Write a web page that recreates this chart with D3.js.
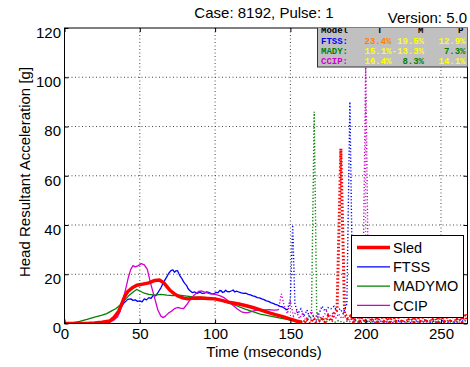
<!DOCTYPE html>
<html><head><meta charset="utf-8">
<script src="https://cdn.jsdelivr.net/npm/d3@7"></script>
<style>body{margin:0;background:#fff;} svg{display:block;font-family:"Liberation Sans",Arial,sans-serif;}</style>
</head><body><svg id="c" width="470" height="367"></svg>
<script>
// ---------- data ----------
const title = "Case: 8192, Pulse: 1";
const version = "Version: 5.0";
const xLabel = "Time (mseconds)";
const yLabel = "Head Resultant Acceleration [g]";
const xTicks = [0, 50, 100, 150, 200, 250];
const yTicks = [0, 20, 40, 60, 80, 100, 120];
const seriesNames = ["Sled", "FTSS", "MADYMO", "CCIP"];

// solid (valid) parts: [time, g]
const sledSolid = [[0,0],[5,0],[10,0],[15,0],[20,0.2],[25,0.5],[30,1],[33,2.5],[36,5],[38,8],[40,11],[42,13],[45,14.5],[48,15.5],[52,16],[56,16.5],[60,17.5],[63,17.7],[66,16.5],[68,15],[70,13.5],[73,12],[76,11],[79,10.3],[82,10],[86,10.3],[90,10.4],[95,10.2],[100,10],[105,9.3],[110,8.5],[115,8],[120,7.3],[125,6.5],[130,5.5],[135,4.5],[140,3.6],[145,2.8],[150,1.8],[154,1],[157,0.5]];
const ftssSolid = [[0,0],[10,0],[20,0.2],[25,0.4],[30,1],[33,2.5],[36,5],[39,8],[41,9.2],[42,9.8],[44,10],[45.5,9.4],[47,9.6],[48.5,9],[50,9.2],[51.5,8.8],[53,10],[54.5,9.6],[56,10.5],[57.5,10.2],[59,11.5],[60.5,11.2],[62,12.5],[64,14.5],[66,17],[68,19],[69,20.2],[70,21],[71,21.6],[72,21.8],[73,20.8],[74,21.4],[75,21.5],[76,20.2],[77,19],[78,18.2],[79,17],[80,16.2],[81,15.5],[82,14.2],[83,13.5],[85,12.5],[86.5,12.8],[88,12.2],[90,12.7],[91.5,12.2],[93,12.3],[94.5,12.9],[96,12.5],[97.5,12.1],[99,12],[100.5,12.6],[102,12.5],[103,13.4],[104,13.3],[105,12.6],[106,12.8],[107,13.5],[108,13],[109.5,12.9],[111,13.3],[112,13.6],[113,12.8],[114.5,13.1],[116,12.7],[117.5,12.4],[119,12.2],[120.5,12.3],[122,11.8],[123.5,11.6],[125,11.2],[126.5,11],[128,10.5],[129.5,10.4],[131,10],[132.5,9.7],[134,9.2],[135.5,9],[137,8.5],[138.5,8.2],[140,7.8],[141.5,7.5],[143,7],[144.5,6.8],[146,6.2],[148,5.5]];
const madySolid = [[0,0],[5,0.2],[10,0.9],[15,1.7],[20,2.6],[25,3.4],[28,4],[31,5],[34,6],[37,7.5],[40,9.5],[43,11.5],[46,13],[48,13.8],[50,13.2],[53,12.3],[56,11.8],[60,11.5],[64,11.8],[68,11.5],[72,11.3],[76,11.5],[80,11.2],[85,10.8],[90,10.7],[95,10.5],[100,10],[105,9.2],[110,8.2],[115,7],[120,5.8],[125,4.8],[130,3.8],[135,3.2],[140,2.6],[145,2],[150,1.4],[153,1]];
const ccipSolid = [[0,0],[10,0],[20,0],[25,0.2],[30,0.5],[33,1.5],[35,2.5],[37,5],[39,10],[41,15],[42.5,19],[44,22],[45.5,23.5],[47,23],[49,23.5],[51,24.3],[53,23.8],[55,22],[56.5,18],[58,14.5],[60,10],[62,5.5],[64,3],[65.5,2.4],[67,3],[69,4.2],[71,5],[73,6],[75,6.5],[77,6.2],[79,6],[81,7.5],[83,9.3],[86,11.5],[89,13],[91,13.2],[94,12.5],[97,12],[100,11.8],[103,11.3],[106,10.5],[109,9],[112,7.3],[115,5.8],[118,4.6],[121,4.3],[124,4.8],[127,5.3],[130,5.5],[133,5.5],[136,5.6],[139,5.4],[142,5.5]];

// dotted tails
const sledTail = [[157,0.5],[159,0.3],[161,1.5],[163,0.2],[165,2],[167,0.5],[169,1],[171,2.5],[173,0.5],[175,3],[177,1],[179,4],[181,6],[183.5,71],[186,4],[188,2],[190,3],[192,0.5],[194,4],[196,1],[198,3],[200,0.5],[202,4],[204,1],[206,3],[208,0.5],[210,4],[212,1],[214,2.5],[216,0.5],[218,4],[220,1],[222,3],[224,0.5],[226,4],[228,1],[230,3],[232,0.5],[234,4],[236,1],[238,3],[240,0.5],[242,4],[244,1],[246,3],[248,0.5],[250,4],[252,1],[254,3],[256,0.5],[258,4],[260,1],[262,3],[264,0.5],[266,4],[267.5,1]];
const ftssTail = [[148,5.5],[150,10],[151.5,40],[153,8],[155,4],[157,6],[159,3],[161,5.5],[163,2],[165,3],[167,1],[169,4],[171,7],[173,5],[175,6.5],[177,6],[179,7],[181,5],[183,6],[185,4],[187.5,8],[189.5,90],[191.5,3],[193,1],[195,0.5],[198,1.5],[200,0.5],[203,1],[206,0.3],[209,1.2],[212,0.4],[215,1],[218,0.3],[221,1.4],[224,0.5],[227,1],[230,0.3],[233,1.2],[236,0.5],[239,1.5],[242,0.4],[245,1],[248,0.3],[251,1.2],[254,0.5],[257,1],[260,0.3],[263,1.5],[266,0.5]];
const madyTail = [[153,1],[156,0.5],[158,1.5],[160,0.5],[162,2],[164,4],[165.8,86],[167.5,3],[169,1],[171,2],[173,0.5],[176,1.5],[179,0.4],[182,1.2],[185,0.3],[188,1],[191,0.4],[194,1.3],[197,0.3],[200,1],[203,0.4],[206,1.2],[209,0.3],[212,1],[215,0.4],[218,1.2],[221,0.3],[224,1],[227,0.4],[230,1.2],[233,0.3],[236,1],[239,0.4],[242,1.2],[245,0.3],[248,1],[251,0.4],[254,1.2],[257,0.3],[260,1],[263,0.4],[266,1.2]];
const ccipTail = [[142,5.5],[144,12],[146,7],[148,4],[150,9],[152,3],[154,5],[156,2],[158,4],[160,1.5],[162,3],[164,5],[166,2],[168,4],[170,1],[172,3],[174,5],[176,3],[178,4],[180,2],[182,4],[184,2],[186,3],[188,1],[190,2],[192,1],[194,3],[196,2],[198,5],[200,106],[202,3],[204,1],[206,0.5],[209,1],[212,0.3],[215,0.8],[218,0.3],[221,1],[224,0.4],[227,0.8],[230,0.3],[233,1],[236,0.4],[239,0.8],[242,0.3],[245,1],[248,0.4],[251,0.8],[254,0.3],[257,1],[260,0.4],[263,5],[265,2],[267,0.5]];

// summary table
const tableHeader = ["Model", "T", "M", "P"];
const tableLabels = ["FTSS:", "MADY:", "CCIP:"];
const tableT = ["23.4%", "15.1%", "16.4%"];
const tableM = ["19.5%", "-13.3%", "8.3%"];
const tableP = ["12.9%", "7.3%", "14.1%"];
const tableTColors = ["#ff8000", "#ffff00", "#ffff00"];
const tableMColors = ["#ffff00", "#ffff00", "#008000"];
const tablePColors = ["#ffff00", "#008000", "#ffff00"];

// ---------- drawing ----------
const colors = ["#ff0000", "#0000ff", "#008000", "#d000d0"];
const widths = [3.5, 1.3, 1.3, 1.3];
const L = 64.5, R = 467.5, T = 28, B = 323.5;
const svg = d3.select("#c");
const x = d3.scaleLinear().domain([0, 267.6]).range([L, R]);
const y = d3.scaleLinear().domain([0, 120]).range([B, T]);

svg.append("defs").append("clipPath").attr("id", "clip")
  .append("rect").attr("x", L).attr("y", T).attr("width", R - L).attr("height", B - T);

// grid
const grid = svg.append("g").attr("stroke", "#333").attr("stroke-width", 0.9).attr("stroke-dasharray", "1,2.5");
xTicks.filter(t => t > 0).forEach(t => grid.append("line").attr("x1", x(t)).attr("x2", x(t)).attr("y1", T).attr("y2", B));
yTicks.filter(t => t > 0 && t < 120).forEach(t => grid.append("line").attr("x1", L).attr("x2", R).attr("y1", y(t)).attr("y2", y(t)));

// lines
const line = d3.line().x(d => x(d[0])).y(d => y(d[1]));
const plot = svg.append("g").attr("clip-path", "url(#clip)");
const solids = [sledSolid, ftssSolid, madySolid, ccipSolid];
const tails = [sledTail, ftssTail, madyTail, ccipTail];
[1, 2, 3, 0].forEach(i => {
  plot.append("path").datum(tails[i]).attr("d", line).attr("fill", "none")
    .attr("stroke", colors[i]).attr("stroke-width", i === 0 ? 3 : 1.4)
    .attr("stroke-dasharray", i === 0 ? "1.5,2" : "1.2,2");
});
[1, 2, 3, 0].forEach(i => {
  plot.append("path").datum(solids[i]).attr("d", line).attr("fill", "none")
    .attr("stroke", colors[i]).attr("stroke-width", widths[i]).attr("stroke-linejoin", "round");
});

// axes (MATLAB style box with inner ticks)
svg.append("rect").attr("x", L).attr("y", T).attr("width", R - L).attr("height", B - T)
  .attr("fill", "none").attr("stroke", "#000").attr("stroke-width", 1);
const xAxB = d3.axisBottom(x).tickValues(xTicks).tickSize(-4).tickPadding(5);
const gx = svg.append("g").attr("transform", `translate(0,${B})`).call(xAxB);
gx.select(".domain").remove();
gx.selectAll("text").attr("font-size", 15).attr("font-family", "Liberation Sans, Arial, sans-serif").attr("fill", "#000");
const xAxT = d3.axisTop(x).tickValues(xTicks).tickSize(-4).tickFormat("");
svg.append("g").attr("transform", `translate(0,${T})`).call(xAxT).select(".domain").remove();
const yAxL = d3.axisLeft(y).tickValues(yTicks).tickSize(-4).tickPadding(3.5);
const gy = svg.append("g").attr("transform", `translate(${L},0)`).call(yAxL);
gy.select(".domain").remove();
gy.selectAll("text").attr("font-size", 15).attr("font-family", "Liberation Sans, Arial, sans-serif").attr("fill", "#000").attr("dy", "0.62em");
const yAxR = d3.axisRight(y).tickValues(yTicks).tickSize(-4).tickFormat("");
svg.append("g").attr("transform", `translate(${R},0)`).call(yAxR).select(".domain").remove();

// titles
svg.append("text").attr("x", 264).attr("y", 18).attr("text-anchor", "middle").attr("font-size", 15).text(title);
svg.append("text").attr("x", 467).attr("y", 23).attr("text-anchor", "end").attr("font-size", 15).text(version);
svg.append("text").attr("x", 264).attr("y", 357).attr("text-anchor", "middle").attr("font-size", 15).text(xLabel);
svg.append("text").attr("transform", "translate(30,172) rotate(-90)").attr("text-anchor", "middle").attr("font-size", 15).text(yLabel);

// summary table
const tb = svg.append("g").attr("clip-path", "url(#clip)");
tb.append("rect").attr("x", 317.5).attr("y", 26).attr("width", 152).attr("height", 41)
  .attr("fill", "#c0c0c0").attr("stroke", "#333").attr("stroke-width", 1);
const mono = "Liberation Mono, Courier New, monospace";
const hdrX = [321, 377, 418, 458];
tableHeader.forEach((h, i) => tb.append("text").attr("x", hdrX[i]).attr("y", 32.5)
  .attr("font-family", mono).attr("font-weight", "bold").attr("font-size", 9).attr("fill", "#000").text(h));
tableLabels.forEach((lab, r) => {
  const yy = 44 + r * 10;
  const t = (txt, xx, anchor, col) => tb.append("text").attr("x", xx).attr("y", yy).attr("text-anchor", anchor)
    .attr("font-family", mono).attr("font-weight", "bold").attr("font-size", 9).attr("fill", col).text(txt);
  t(lab, 321, "start", colors[r + 1]);
  t(tableT[r], 391.5, "end", tableTColors[r]);
  t(tableM[r], 424, "end", tableMColors[r]);
  t(tableP[r], 465.5, "end", tablePColors[r]);
});

// legend
const lg = svg.append("g");
lg.append("rect").attr("x", 351.5).attr("y", 235.5).attr("width", 112).attr("height", 82)
  .attr("fill", "#fff").attr("stroke", "#000").attr("stroke-width", 1);
seriesNames.forEach((n, i) => {
  const yy = 247.5 + i * 19.3;
  lg.append("line").attr("x1", 357).attr("x2", 390).attr("y1", yy).attr("y2", yy)
    .attr("stroke", colors[i]).attr("stroke-width", i === 0 ? 3.5 : 1.3);
  lg.append("text").attr("x", 393).attr("y", yy + 5.2).attr("font-size", 14.5).text(n);
});
</script></body></html>
